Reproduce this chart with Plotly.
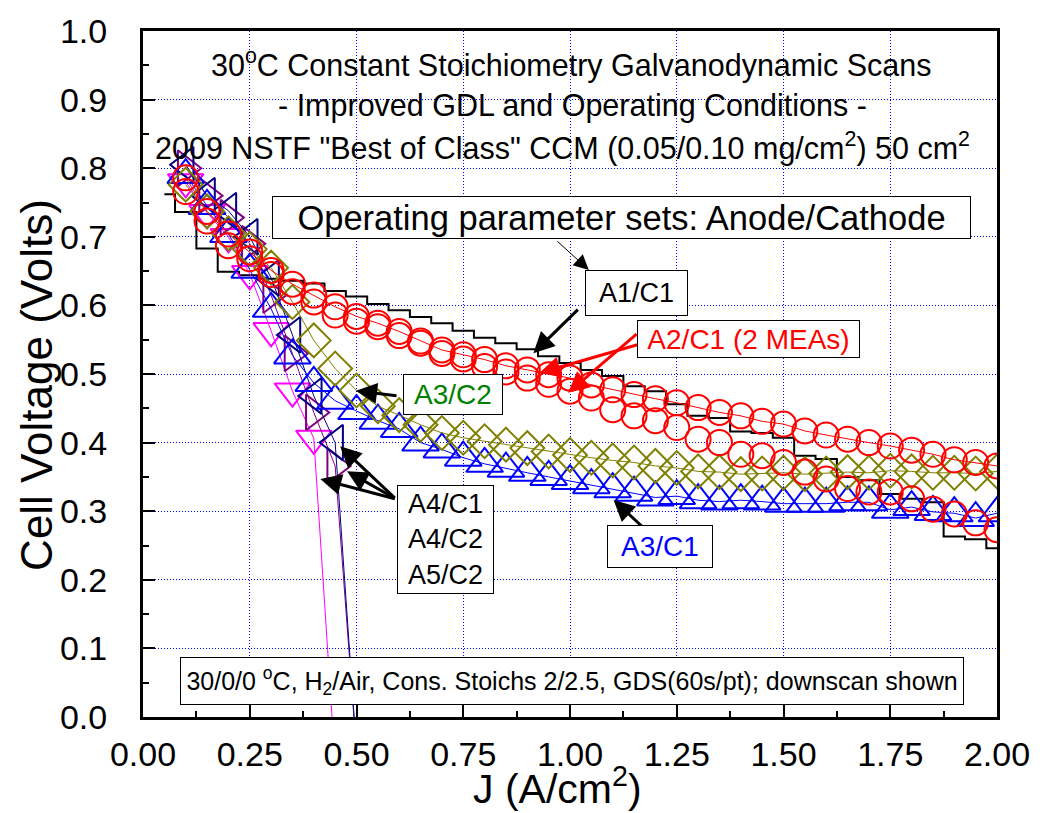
import plotly.graph_objects as go

# ---------------- data ----------------
J = [0.10, 0.15, 0.20, 0.25, 0.30, 0.35, 0.40, 0.45, 0.50, 0.55, 0.60, 0.65, 0.70,
     0.75, 0.80, 0.85, 0.90, 0.95, 1.00, 1.05, 1.10, 1.15, 1.20, 1.25, 1.30, 1.35,
     1.40, 1.45, 1.50, 1.55, 1.60, 1.65, 1.70, 1.75, 1.80, 1.85, 1.90, 1.95, 2.00]

J_A1C1 = [0.05, 0.10, 0.15, 0.20, 0.25, 0.30, 0.35, 0.40, 0.45, 0.50, 0.55, 0.60, 0.65,
          0.70, 0.75, 0.80, 0.85, 0.90, 0.95, 1.00, 1.05, 1.10, 1.15, 1.20, 1.25, 1.30,
          1.35, 1.40, 1.45, 1.50, 1.55, 1.60, 1.65, 1.70, 1.75, 1.80, 1.85, 1.90, 1.95, 2.00]
V_A1C1 = [0.762, 0.736, 0.683, 0.649, 0.644, 0.639, 0.636, 0.632, 0.621, 0.613, 0.602,
          0.593, 0.583, 0.574, 0.563, 0.553, 0.545, 0.536, 0.526, 0.516, 0.506, 0.497,
          0.482, 0.475, 0.456, 0.439, 0.436, 0.416, 0.414, 0.407, 0.381, 0.376, 0.350,
          0.345, 0.325, 0.318, 0.313, 0.263, 0.259, 0.246]

V_A2C1_a = [0.786, 0.737, 0.704, 0.678, 0.651, 0.631, 0.615, 0.598, 0.584, 0.574, 0.562,
            0.548, 0.535, 0.528, 0.521, 0.512, 0.506, 0.499, 0.494, 0.484, 0.477, 0.470,
            0.464, 0.458, 0.451, 0.444, 0.439, 0.431, 0.427, 0.417, 0.411, 0.405, 0.400,
            0.395, 0.389, 0.383, 0.375, 0.371, 0.366]
V_A2C1_b = [0.766, 0.723, 0.687, 0.668, 0.645, 0.620, 0.605, 0.586, 0.577, 0.569, 0.556,
            0.545, 0.530, 0.522, 0.511, 0.503, 0.494, 0.485, 0.475, 0.465, 0.448, 0.439,
            0.432, 0.422, 0.405, 0.400, 0.383, 0.381, 0.371, 0.357, 0.347, 0.333, 0.328,
            0.328, 0.318, 0.303, 0.296, 0.283, 0.273]
V_A3C2 = [0.776, 0.737, 0.705, 0.682, 0.655, 0.605, 0.549, 0.508, 0.476, 0.453, 0.440,
          0.426, 0.414, 0.407, 0.402, 0.397, 0.392, 0.387, 0.382, 0.378, 0.374, 0.371,
          0.366, 0.363, 0.358, 0.357, 0.354, 0.355, 0.356, 0.354, 0.355, 0.357, 0.356,
          0.359, 0.358, 0.356, 0.356, 0.355, 0.358]
V_A3C1 = [0.790, 0.745, 0.704, 0.652, 0.595, 0.527, 0.487, 0.461, 0.446, 0.432, 0.420,
          0.400, 0.390, 0.378, 0.369, 0.362, 0.356, 0.350, 0.344, 0.338, 0.332, 0.327,
          0.320, 0.322, 0.316, 0.314, 0.316, 0.314, 0.311, 0.311, 0.311, 0.313, 0.313,
          0.302, 0.306, 0.299, 0.297, 0.290, 0.297]

J_A4C1 = [0.10, 0.15, 0.20, 0.25, 0.30, 0.35, 0.40, 0.45, 0.50]
V_A4C1 = [0.805, 0.760, 0.738, 0.700, 0.640, 0.557, 0.468, 0.400, -0.05]
J_A4C2 = [0.10, 0.15, 0.20, 0.25, 0.30, 0.35, 0.40, 0.45, 0.50]
V_A4C2 = [0.800, 0.760, 0.728, 0.690, 0.615, 0.530, 0.444, 0.366, -0.05]
J_A5C2 = [0.10, 0.15, 0.20, 0.25, 0.30, 0.35, 0.40, 0.448]
V_A5C2 = [0.780, 0.735, 0.700, 0.646, 0.563, 0.475, 0.406, -0.05]

X_TICKS = [0.0, 0.25, 0.5, 0.75, 1.0, 1.25, 1.5, 1.75, 2.0]
Y_TICKS = [0.0, 0.1, 0.2, 0.3, 0.4, 0.5, 0.6, 0.7, 0.8, 0.9, 1.0]

FONT = "Liberation Sans, Arial, Helvetica, sans-serif"

# ---------------- figure ----------------
W, H = 1042, 813
ML, MR, MT, MB = 143, 37, 25, 96
PW, PH = W - ML - MR, H - MT - MB


def P(xp, yp):
    """pixel position -> paper coordinates"""
    return (xp - ML) / PW, (H - MB - yp) / PH


fig = go.Figure()

fig.add_trace(go.Scatter(x=J_A1C1, y=V_A1C1, mode="lines", name="A1/C1",
                         line=dict(color="black", width=2, shape="hvh")))


def sym_trace(x, y, name, color, symbol, size, line_w=1, mode="lines+markers"):
    return go.Scatter(
        x=x, y=y, name=name, mode=mode,
        line=dict(color=color, width=line_w),
        marker=dict(symbol=symbol, size=size, color=color,
                    line=dict(color=color, width=2)),
    )


fig.add_trace(sym_trace(J_A5C2, V_A5C2, "A5/C2", "#FF00FF", "triangle-down-open", 31))
fig.add_trace(sym_trace(J_A4C2, V_A4C2, "A4/C2", "#800080", "triangle-right-open", 31))
fig.add_trace(sym_trace(J_A4C1, V_A4C1, "A4/C1", "#000080", "triangle-left-open", 31))
fig.add_trace(sym_trace(J, V_A3C1, "A3/C1", "#0000FF", "triangle-up-open", 32))
fig.add_trace(sym_trace(J, V_A3C2, "A3/C2", "#808000", "diamond-open", 26))
fig.add_trace(sym_trace(J, V_A2C1_b, "A2/C1 b", "#FF0000", "circle-open", 25, mode="markers"))
fig.add_trace(sym_trace(J, V_A2C1_a, "A2/C1 a", "#FF0000", "circle-open", 25))

ann = []


def text_ann(xp, yp, text, size, color="black", **kw):
    x, y = P(xp, yp)
    d = dict(x=x, y=y, xref="paper", yref="paper", text=text, showarrow=False,
             xanchor="center", yanchor="middle",
             font=dict(family=FONT, size=size, color=color))
    d.update(kw)
    ann.append(d)


def box_ann(x0, y0, x1, y1, text, size, color="black"):
    text_ann((x0 + x1) / 2, (y0 + y1) / 2, text, size, color,
             width=x1 - x0 - 2, height=y1 - y0 - 2, bgcolor="white",
             bordercolor="black", borderwidth=1, borderpad=0, align="center")


def arrow(tail, tip, color="black", width=3, size=1.4):
    x, y = P(*tip)
    ann.append(dict(x=x, y=y, xref="paper", yref="paper", text="", showarrow=True,
                    ax=tail[0] - tip[0], ay=tail[1] - tip[1], arrowcolor=color,
                    arrowwidth=width, arrowhead=2, arrowsize=size,
                    standoff=0, startstandoff=0))


# title lines
text_ann(576, 58, "30<sup>o</sup>C Constant Stoichiometry Galvanodynamic Scans", 30.5)
text_ann(577, 100, "- Improved GDL and Operating Conditions -", 30.5)
text_ann(566, 142, '2009 NSTF "Best of Class" CCM (0.05/0.10 mg/cm<sup>2</sup>) 50 cm<sup>2</sup>', 30.5)

# arrows (drawn before boxes)
arrow((560, 236), (593, 266), width=1, size=3)
arrow((583, 305), (537, 350))
arrow((642, 330), (572, 390), color="#FF0000")
arrow((647, 340), (543, 370), color="#FF0000")
arrow((400, 393), (358, 388))
arrow((648, 526), (618, 498))
arrow((398, 497), (342, 444))
arrow((398, 497), (349, 469))
arrow((398, 497), (322, 477))

# boxes
box_ann(276, 192, 975, 235, "Operating parameter sets: Anode/Cathode", 34.5)
box_ann(590, 266, 693, 312, "A1/C1", 27)
box_ann(643, 317, 866, 355, "A2/C1 (2 MEAs)", 28, "#FF0000")
box_ann(406, 371, 506, 412, "A3/C2", 28, "#008000")
box_ann(612, 524, 718, 567, "A3/C1", 28, "#0000FF")
box_ann(400, 483, 497, 592, "A4/C1<br>A4/C2<br>A5/C2", 27)
box_ann(184, 657, 968, 705,
        "30/0/0 <sup>o</sup>C, H<sub>2</sub>/Air, Cons. Stoichs 2/2.5, GDS(60s/pt); downscan shown", 25)

# axis titles
text_ann(36, 382, "Cell Voltage (Volts)", 44, textangle=-90)
text_ann(561, 787, "J (A/cm<sup>2</sup>)", 41)

axis_common = dict(
    showline=True, linecolor="black", linewidth=3, mirror=True,
    ticks="inside", ticklen=12, tickwidth=2, tickcolor="black",
    showgrid=True, gridcolor="#0000FF", gridwidth=1, griddash="1px,2px",
    zeroline=False, tickfont=dict(family=FONT, size=34, color="black"),
)

fig.update_layout(
    width=W, height=H,
    margin=dict(l=ML, r=MR, t=MT, b=MB, pad=0),
    paper_bgcolor="white", plot_bgcolor="white",
    showlegend=False,
    font=dict(family=FONT, color="black"),
    xaxis=dict(range=[0, 2], tickvals=X_TICKS, tickformat=".2f",
               ticklabelstandoff=5,
               minor=dict(ticks="inside", ticklen=6, tickwidth=2, dtick=0.125,
                          tick0=0, showgrid=False),
               **axis_common),
    yaxis=dict(range=[0, 1], tickvals=Y_TICKS, tickformat=".1f",
               ticklabelstandoff=26,
               minor=dict(ticks="inside", ticklen=6, tickwidth=2, dtick=0.05,
                          tick0=0, showgrid=False),
               **axis_common),
    annotations=ann,
)

fig.write_html("out.html", config={"displayModeBar": False})
